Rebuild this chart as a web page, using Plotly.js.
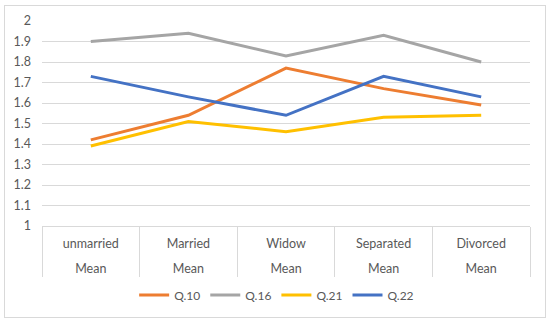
<!DOCTYPE html>
<html>
<head>
<meta charset="utf-8">
<script src="https://cdn.plot.ly/plotly-3.0.1.min.js"></script>
<style>
  html, body { margin: 0; padding: 0; background: #fff; }
  #wrap { position: relative; width: 550px; height: 323px; }
  #chart { width: 550px; height: 323px; }
  #frame { position: absolute; left: 4px; top: 5px; width: 540px; height: 311px;
           border: 1px solid #d9d9d9; pointer-events: none; }
</style>
</head>
<body>
<div id="wrap"><div id="chart"></div><div id="frame"></div></div>
<script>
const categories = ["unmarried", "Married", "Widow", "Separated", "Divorced"];
const subLabels = ["Mean", "Mean", "Mean", "Mean", "Mean"];
const seriesNames = ["Q.10", "Q.16", "Q.21", "Q.22"];
const q10 = [1.42, 1.54, 1.77, 1.67, 1.59];
const q16 = [1.90, 1.94, 1.83, 1.93, 1.80];
const q21 = [1.39, 1.51, 1.46, 1.53, 1.54];
const q22 = [1.73, 1.63, 1.54, 1.73, 1.63];
const colors = ["#ED7D31", "#A5A5A5", "#FFC000", "#4472C4"];

const values = [q10, q16, q21, q22];
const positions = categories.map((c, i) => i);
const boundaries = [-0.5, 0.5, 1.5, 2.5, 3.5, 4.5];

const traces = values.map((v, k) => ({
  type: "scatter", mode: "lines", name: seriesNames[k],
  x: positions, y: v,
  line: { color: colors[k], width: 3 },
  hoverinfo: "skip"
}));
// invisible helper traces so the extra label / separator axes are drawn
["x2", "x3"].forEach(ax => traces.push({
  type: "scatter", mode: "lines", x: positions, y: q10, xaxis: ax,
  line: { width: 0, color: "rgba(0,0,0,0)" }, opacity: 0,
  showlegend: false, hoverinfo: "skip"
}));

const font = { family: "Lato, 'Open Sans', sans-serif", size: 12.5, color: "#595959" };
const legendFont = { family: "Lato, 'Open Sans', sans-serif", size: 12, color: "#595959" };

const layout = {
  width: 550, height: 323,
  margin: { l: 42, r: 20, t: 21, b: 97 },
  paper_bgcolor: "#ffffff", plot_bgcolor: "#ffffff",
  font: font,
  showlegend: true,
  legend: {
    orientation: "h", xref: "container", yref: "container",
    x: 0.503, xanchor: "center", y: 1 - 295 / 323, yanchor: "middle",
    font: legendFont, itemwidth: 30, tracegroupgap: 0
  },
  xaxis: {
    type: "linear", range: [-0.5, 4.5],
    tickmode: "array", tickvals: positions, ticktext: categories,
    ticks: "", showgrid: false, zeroline: false,
    showline: true, linecolor: "#d9d9d9", linewidth: 1,
    ticklabelstandoff: 6, tickfont: font
  },
  xaxis2: {
    type: "linear", range: [-0.5, 4.5], overlaying: "x", anchor: "y", side: "bottom",
    tickmode: "array", tickvals: positions, ticktext: subLabels,
    ticks: "", showgrid: false, zeroline: false, showline: false,
    ticklabelstandoff: 33, tickfont: font
  },
  xaxis3: {
    type: "linear", range: [-0.5, 4.5], overlaying: "x", anchor: "y", side: "bottom",
    tickmode: "array", tickvals: boundaries,
    ticks: "outside", ticklen: 50, tickcolor: "#d9d9d9", tickwidth: 1,
    showticklabels: false, showgrid: false, zeroline: false, showline: false
  },
  yaxis: {
    range: [1, 2], dtick: 0.1, tick0: 1,
    showgrid: true, gridcolor: "#d9d9d9", gridwidth: 1,
    zeroline: false, showline: false, ticks: "",
    ticklabelstandoff: 10, tickfont: font
  }
};

Plotly.newPlot("chart", traces, layout, { staticPlot: true, displayModeBar: false });
</script>
</body>
</html>
